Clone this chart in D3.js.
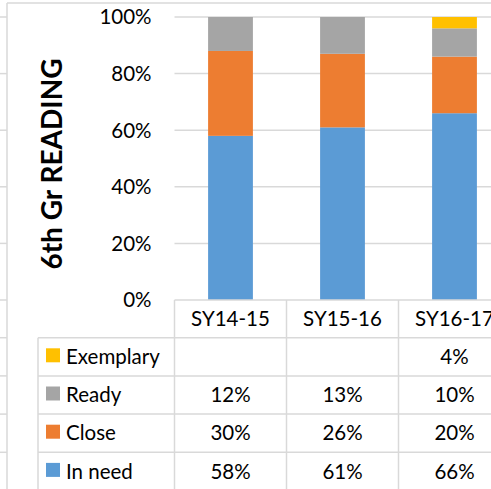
<!DOCTYPE html>
<html>
<head>
<meta charset="utf-8">
<script src="https://cdn.jsdelivr.net/npm/d3@7"></script>
<style>
  body { margin: 0; background: #fff; }
  text { font-family: Lato, "Open Sans", sans-serif; fill: #000; }
</style>
</head>
<body>
<div id="draw"></div>
<script>
// data
const categories = ['SY14-15', 'SY15-16', 'SY16-17'];
const series = ['In need', 'Close', 'Ready', 'Exemplary'];
const inNeed = [58, 61, 66];
const close = [30, 26, 20];
const ready = [12, 13, 10];
const exemplary = [null, null, 4];
const yTicks = [0, 20, 40, 60, 80, 100];
const colors = ['#5B9BD5', '#ED7D31', '#A5A5A5', '#FFC000'];

// parameters
let width = 491, height = 489;
let plot = { left: 174.5, top: 17, bottom: 300 };
let step = 112;
let header_h = 37.7, row_h = 38.2;
let legend_left = 38;
let line_color = '#d9d9d9';

let rows = categories.map((c, i) => ({
    cat: c,
    'In need': inNeed[i],
    'Close': close[i],
    'Ready': ready[i],
    'Exemplary': exemplary[i]
}));
let stacked = d3.stack().keys(series).value((d, k) => d[k] || 0)(rows);

let x = d3.scaleBand().domain(categories).range([plot.left, plot.left + step * categories.length]).padding(0);
let y = d3.scaleLinear().domain([0, 100]).range([plot.bottom, plot.top]);
let bar_w = x.bandwidth() * 0.4;

let svg = d3.select('#draw').append('svg').attr('width', width).attr('height', height);
svg.append('rect').attr('width', width).attr('height', height).attr('fill', '#fff');

// sheet grid bits and chart frame
let table_rows = series.slice().reverse();
let row_ys = [plot.bottom + header_h].concat(table_rows.map((d, i) => plot.bottom + header_h + row_h * (i + 1)));
svg.append('g').selectAll('line')
    .data(yTicks.map(t => y(t)).concat(row_ys))
    .enter().append('line')
    .attr('x1', 0).attr('x2', 7)
    .attr('y1', d => d).attr('y2', d => d)
    .attr('stroke', line_color).attr('stroke-width', 1.5);
svg.append('line').attr('x1', 7).attr('x2', 7).attr('y1', 3).attr('y2', height)
    .attr('stroke', line_color).attr('stroke-width', 1.5);
svg.append('line').attr('x1', 7).attr('x2', width).attr('y1', 3).attr('y2', 3)
    .attr('stroke', line_color).attr('stroke-width', 1.5);

// gridlines
svg.append('g').selectAll('line')
    .data(yTicks.filter(t => t > 0))
    .enter().append('line')
    .attr('x1', plot.left).attr('x2', width)
    .attr('y1', d => y(d)).attr('y2', d => y(d))
    .attr('stroke', line_color).attr('stroke-width', 1.5);

// y labels
svg.append('g').selectAll('text')
    .data(yTicks)
    .enter().append('text')
    .attr('x', 151.5)
    .attr('y', d => y(d) + 7.3)
    .attr('text-anchor', 'end')
    .style('font-size', '20.5px')
    .text(d => d + '%');

// title
svg.append('text')
    .attr('transform', 'translate(61.5,164) rotate(-90)')
    .attr('text-anchor', 'middle')
    .style('font-size', '28px')
    .style('font-weight', 'bold')
    .text('6th Gr READING');

// bars
svg.append('g').selectAll('g')
    .data(stacked)
    .enter().append('g')
    .attr('fill', (d, i) => colors[i])
    .selectAll('rect')
    .data(d => d)
    .enter().append('rect')
    .attr('x', d => x(d.data.cat) + (x.bandwidth() - bar_w) / 2)
    .attr('y', d => y(d[1]))
    .attr('width', bar_w)
    .attr('height', d => y(d[0]) - y(d[1]));

// data table
let tbl = svg.append('g');
let table_right = plot.left + step * categories.length;
// horizontal lines
tbl.append('line').attr('x1', plot.left).attr('x2', table_right)
    .attr('y1', plot.bottom).attr('y2', plot.bottom)
    .attr('stroke', line_color).attr('stroke-width', 1.5);
tbl.selectAll('.hl')
    .data(row_ys)
    .enter().append('line')
    .attr('x1', legend_left).attr('x2', table_right)
    .attr('y1', d => d).attr('y2', d => d)
    .attr('stroke', line_color).attr('stroke-width', 1.5);
// vertical lines
tbl.selectAll('.vl')
    .data(categories.map(c => x(c)).concat([table_right]))
    .enter().append('line')
    .attr('x1', d => d).attr('x2', d => d)
    .attr('y1', plot.bottom).attr('y2', height)
    .attr('stroke', line_color).attr('stroke-width', 1.5);
tbl.append('line').attr('x1', legend_left).attr('x2', legend_left)
    .attr('y1', plot.bottom + header_h).attr('y2', height)
    .attr('stroke', line_color).attr('stroke-width', 1.5);

// header
tbl.selectAll('.hd')
    .data(categories)
    .enter().append('text')
    .attr('x', d => x(d) + x.bandwidth() / 2)
    .attr('y', plot.bottom + header_h / 2 + 7.3)
    .attr('text-anchor', 'middle')
    .style('font-size', '20.5px')
    .text(d => d);

// legend column + values
let trow = tbl.selectAll('.tr')
    .data(table_rows)
    .enter().append('g')
    .attr('transform', (d, i) => 'translate(0,' + (plot.bottom + header_h + row_h * i) + ')');
trow.append('rect')
    .attr('x', 46).attr('y', row_h / 2 - 8.5)
    .attr('width', 14).attr('height', 14)
    .attr('fill', d => colors[series.indexOf(d)]);
trow.append('text')
    .attr('x', 66).attr('y', row_h / 2 + 7.3)
    .style('font-size', '20.5px')
    .text(d => d);
trow.selectAll('.val')
    .data(d => rows.map(r => ({ cat: r.cat, v: r[d] })))
    .enter().append('text')
    .attr('x', d => x(d.cat) + x.bandwidth() / 2)
    .attr('y', row_h / 2 + 7.3)
    .attr('text-anchor', 'middle')
    .style('font-size', '20.5px')
    .text(d => d.v == null ? '' : d.v + '%');
</script>
</body>
</html>
